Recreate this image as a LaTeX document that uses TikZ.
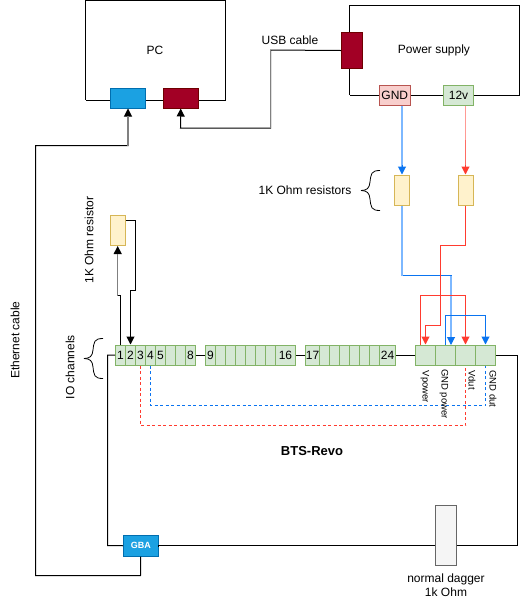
\documentclass[tikz,border=0pt]{standalone}
\usepackage{fontspec}
\setmainfont{Liberation Sans}
\usetikzlibrary{arrows.meta}
\definecolor{cellfill}{HTML}{D5E8D4}\definecolor{cellline}{HTML}{82B366}
\definecolor{resfill}{HTML}{FFF2CC}\definecolor{resline}{HTML}{D6B656}
\definecolor{gndfill}{HTML}{F8CECC}\definecolor{gndline}{HTML}{B85450}
\definecolor{usbfill}{HTML}{A20025}\definecolor{usbline}{HTML}{6F0000}
\definecolor{bluefill}{HTML}{1BA1E2}\definecolor{blueline}{HTML}{006EAF}
\definecolor{wred}{HTML}{FF3B2F}\definecolor{wblue}{HTML}{0A74F0}
\definecolor{lred}{HTML}{FF9A94}\definecolor{lblue}{HTML}{7DB8FF}
\definecolor{dagfill}{HTML}{F5F5F5}\definecolor{dagline}{HTML}{666666}
\tikzset{
  wire/.style={draw=black,line width=1pt,line join=miter},
  tipped/.style={-{Triangle[length=8pt,width=8pt]}},
  cellbox/.style={draw=cellline,fill=cellfill,line width=1pt,inner sep=0pt,font=\fontsize{12}{12}\selectfont},
  lbl/.style={inner sep=0pt,align=center,font=\fontsize{12}{14.5}\selectfont},
  small/.style={inner sep=0pt,font=\fontsize{9.5}{11}\selectfont,rotate=-90},
  resbox/.style={draw=resline,fill=resfill,line width=1pt,minimum width=15pt,minimum height=30pt,inner sep=0pt},
  overlay seg/.style={line width=1.5pt},
}
\newcommand{\boxat}[7]{\node[#2,minimum width=#5pt-#3pt,minimum height=#6pt-#4pt] (#1) at ({(#3+#5)/2},{(#4+#6)/2}) {#7};}
\newcommand{\cellat}[4]{\node[cellbox,minimum width=#3pt-#2pt,minimum height=20pt] (#1) at ({(#2+#3)/2},355) {#4};}
\begin{document}
\begin{tikzpicture}[x=1pt,y=-1pt]
\useasboundingbox (0,0) rectangle (521,606);
% main frames
\coordinate (pcTL) at (85.5,0.5);\coordinate (pcTR) at (225.5,0.5);
\coordinate (pcBL) at (85.5,100);\coordinate (pcBR) at (225.5,100);
\draw[wire] (pcBL) -- (pcTL) -- (pcTR) -- (pcBR) -- (pcBL);
\coordinate (psTL) at (349.5,5.5);\coordinate (psTR) at (519.5,5.5);
\coordinate (psBL) at (349.5,95);\coordinate (psBR) at (519.5,95);
\draw[wire] (psBL) -- (psTL) -- (psTR) -- (psBR) -- (psBL);
\node[lbl] (pcl) at (155,50) {PC};
\node[lbl] (psl) at (434,50) {Power supply};
% ports
\boxat{pcblue}{draw=blueline,fill=bluefill,line width=1pt}{110.5}{88.5}{145.5}{108}{}
\boxat{pcred}{draw=usbline,fill=usbfill,line width=1pt}{163.5}{88.5}{198}{108}{}
\boxat{psusb}{draw=usbline,fill=usbfill,line width=1pt}{341.5}{32.5}{362}{68.5}{}
\boxat{gnd}{draw=gndline,fill=gndfill,line width=1pt,inner sep=0pt,font=\fontsize{12}{12}\selectfont}{379.5}{85.5}{410}{105}{GND}
\boxat{v12}{cellbox}{443.5}{85.5}{473.5}{105}{12v}
% resistors
\node[resbox] (r1) at (402,190) {};
\node[resbox] (r2) at (465.5,190) {};
\node[resbox] (r3) at (118,230) {};
% channel cells
\cellat{c1}{115.5}{125.5}{1}\cellat{c2}{125.5}{135.5}{2}\cellat{c3}{135.5}{145.5}{3}\cellat{c4}{145.5}{155.5}{4}
\cellat{c5}{155.5}{165.5}{5}\cellat{c6}{165.5}{175.5}{}\cellat{c7}{175.5}{185.5}{}\cellat{c8}{185.5}{195.5}{8}
\cellat{c9}{205.5}{215.5}{9}\cellat{c10}{215.5}{225.5}{}\cellat{c11}{225.5}{235.5}{}\cellat{c12}{235.5}{245.5}{}
\cellat{c13}{245.5}{255.5}{}\cellat{c14}{255.5}{265.5}{}\cellat{c15}{265.5}{275.5}{}\cellat{c16}{275.5}{295.5}{16}
\cellat{c17}{305.5}{319.5}{17}\cellat{c18}{319.5}{329.5}{}\cellat{c19}{329.5}{339.5}{}\cellat{c20}{339.5}{349.5}{}
\cellat{c21}{349.5}{359.5}{}\cellat{c22}{359.5}{369.5}{}\cellat{c23}{369.5}{379.5}{}\cellat{c24}{379.5}{395.5}{24}
\cellat{p1}{415.5}{435.5}{}\cellat{p2}{435.5}{455.5}{}\cellat{p3}{455.5}{475.5}{}\cellat{p4}{475.5}{495.5}{}
% GBA and dagger
\boxat{gba}{draw=blueline,fill=bluefill,line width=1pt,text=white,inner sep=0pt,font=\fontsize{9}{9}\selectfont\bfseries}{123.5}{535.5}{158}{556}{GBA}
\boxat{dag}{draw=dagline,fill=dagfill,line width=1pt}{435.5}{505.5}{456}{565.5}{}
% backbone
\draw[wire] (c8.east) -- (c9.west);
\draw[wire] (c16.east) -- (c17.west);
\draw[wire] (c24.east) -- (p1.west);
\coordinate (bl1) at (107.5,355);\coordinate (bl2) at (107.5,545.5);
\coordinate (br1) at (517.5,355);\coordinate (br2) at (517.5,545.5);
\draw[wire] (c1.west) -- (bl1) -- (bl2) -- (gba.west);
\draw[wire] (gba.east) -- (gba.east|-bl2) -- (dag.west|-bl2);
\draw[wire] (dag.east|-bl2) -- (br2) -- (br1) -- (p4.east);
% ethernet
\coordinate (e1) at (140.5,575.5);\coordinate (e2) at (35.5,575.5);\coordinate (e3) at (35.5,145.5);\coordinate (e4) at (128,145.5);
\draw[wire,tipped] (gba.south) -- (e1) -- (e2) -- (e3) -- (e4) -- (pcblue.south);
\draw[gray,overlay seg] (e4) -- (128,116);
% usb
\coordinate (u1) at (270.5,50);\coordinate (u2) at (270.5,128);\coordinate (u3) at (180.5,128);
\draw[wire,tipped] (psusb.west) -- (u1) -- (u2) -- (u3) -- (pcred.south);
\draw[gray,overlay seg] (u1) -- (u2);
% power to resistors
\draw[lblue,overlay seg] (gnd.south-|r1) -- (402,168);
\draw[lred,overlay seg] (v12.south-|r2) -- (465.5,140);
\draw[wred!75!white,line width=1pt] (465.5,140) -- (465.5,168);
\draw[draw=wblue,line width=1pt,tipped] (402,165) -- (r1.north);
\draw[draw=wred,line width=1pt,tipped] (465.5,165) -- (r2.north);
% blue to GND power
\coordinate (b1) at (402,275.5);\coordinate (b2) at (451,275.5);
\draw[wblue,line width=1pt,tipped] (r1.south) -- (b1) -- (b2) -- (451,345);
\draw[lblue,overlay seg] (r1.south) -- (b1);
\draw[lblue,overlay seg] (b2) -- (451,337);
% red to Vpower
\coordinate (d1) at (465.5,245.5);\coordinate (d2) at (440.5,245.5);\coordinate (d3) at (440.5,325.5);\coordinate (d4) at (425.5,325.5);
\draw[wred,line width=1pt,tipped] (r2.south) -- (d1) -- (d2) -- (d3) -- (d4) -- (p1.north);
% red loop Vdut
\coordinate (f1) at (420.5,295.5);\coordinate (f2) at (465.5,295.5);
\draw[wred,line width=1pt,tipped] (420.5,345) -- (f1) -- (f2) -- (p3.north);
% blue loop GND dut
\coordinate (g1) at (445.5,315.5);\coordinate (g2) at (485.5,315.5);
\draw[wblue,line width=1pt,tipped] (445.5,345) -- (g1) -- (g2) -- (p4.north);
% resistor loop
\coordinate (h1) at (120.5,295.5);\coordinate (h2) at (117.7,295.5);
\draw[wire,tipped] (120.5,345) -- (h1) -- (h2) -- (117.7,246);
\draw[gray,overlay seg] (h2) -- (117.7,254);
\coordinate (k0) at (125.5,220.5);\coordinate (k1) at (135.5,220.5);\coordinate (k2) at (135.5,290.5);\coordinate (k3) at (130.5,290.5);
\draw[wire,tipped] (k0) -- (k1) -- (k2) -- (k3) -- (c2.north);
% dashed
\coordinate (m1) at (140.5,425.5);\coordinate (m2) at (465.5,425.5);
\draw[wred,line width=0.8pt,dash pattern=on 3pt off 2.5pt] (c3.south) -- (m1) -- (m2) -- (p3.south);
\coordinate (n1) at (150.5,405.5);\coordinate (n2) at (485.5,405.5);
\draw[wblue,line width=0.8pt,dash pattern=on 3pt off 2.5pt] (c4.south) -- (n1) -- (n2) -- (p4.south);
% braces
\coordinate (bA) at (103,338.5);\coordinate (bB) at (103,378.5);\coordinate (bC) at (84,358.5);
\draw[wire,line width=0.8pt] (bA) .. controls (94,338.5) and (94,342) .. (93,350) .. controls (92.5,356) and (90,358.5) .. (bC);
\draw[wire,line width=0.8pt] (bB) .. controls (94,378.5) and (94,375) .. (93,367) .. controls (92.5,361) and (90,358.5) .. (bC);
\coordinate (bD) at (380,170.5);\coordinate (bE) at (380,210.5);\coordinate (bF) at (361,190.5);
\draw[wire,line width=0.8pt] (bD) .. controls (371,170.5) and (371,174) .. (370,182) .. controls (369.5,188) and (367,190.5) .. (bF);
\draw[wire,line width=0.8pt] (bE) .. controls (371,210.5) and (371,207) .. (370,199) .. controls (369.5,193) and (367,190.5) .. (bF);
% labels
\node[lbl] (usbl) at (290,40) {USB cable};
\node[lbl] (rsl) at (305,190) {1K Ohm resistors};
\node[lbl,rotate=90] (ethl) at (15,340) {Ethernet cable};
\node[lbl,rotate=90] (r1l) at (89,240) {1K Ohm resistor};
\node[lbl,rotate=90] (iol) at (70,367) {IO channels};
\node[lbl,font=\fontsize{13}{15}\selectfont\bfseries] (bts) at (312,451) {BTS-Revo};
\node[lbl] (dagl) at (446,585) {normal dagger\\1k Ohm};
\node[small] (s1) at (425,387) {Vpower};
\node[small] (s2) at (444,394) {GND power};
\node[small] (s3) at (472,380) {Vdut};
\node[small] (s4) at (493,389) {GND dut};
\end{tikzpicture}
\end{document}
